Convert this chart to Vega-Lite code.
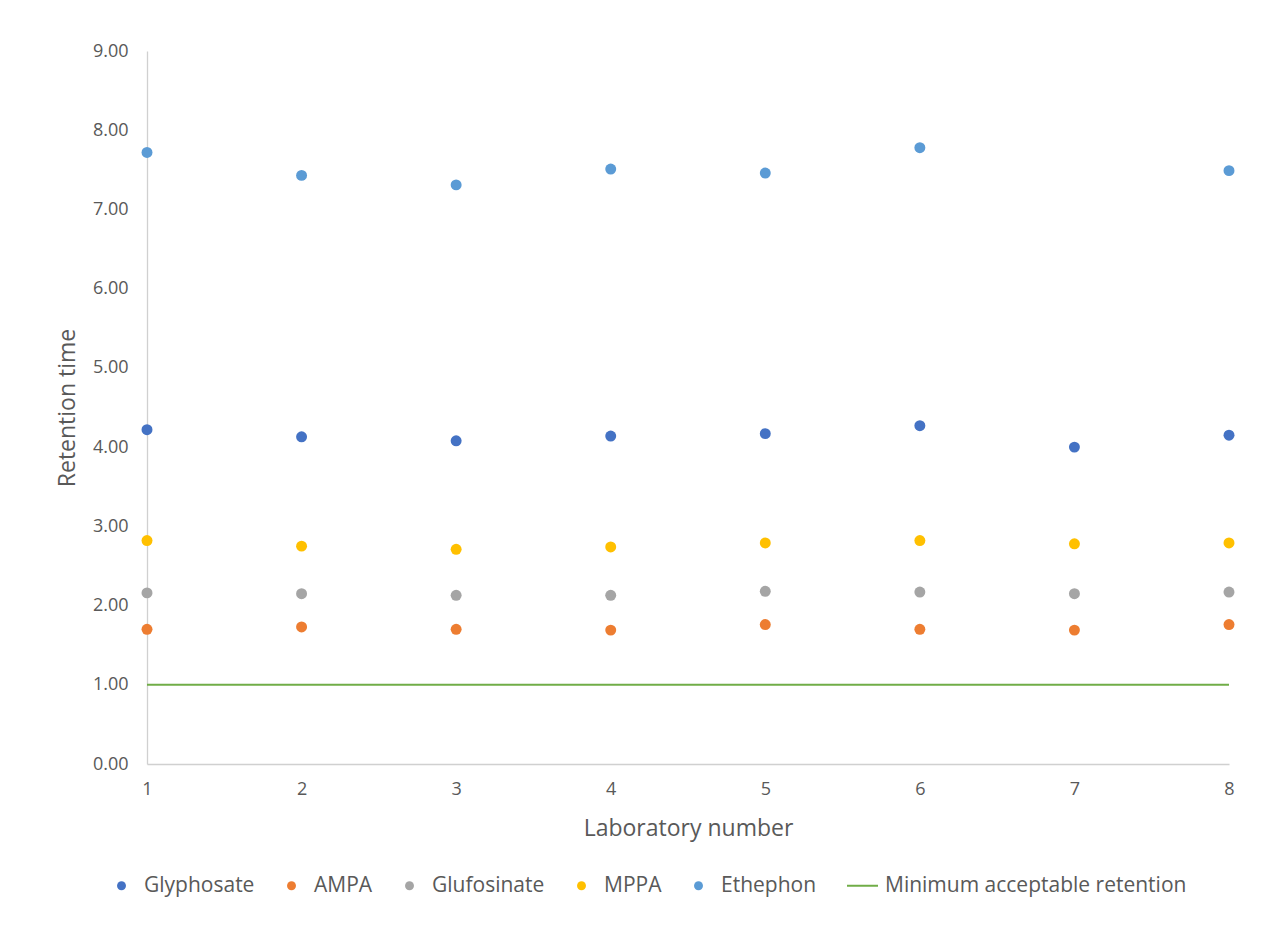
{
  "$schema": "https://vega.github.io/schema/vega-lite/v6.json",
  "width": 1082,
  "height": 713,
  "autosize": {"type": "none"},
  "padding": {"left": 147, "top": 51, "right": 51, "bottom": 181},
  "background": "white",
  "config": {
    "view": {"stroke": null},
    "font": "Open Sans",
    "axis": {"grid": false, "ticks": false, "labelFlush": false, "domainColor": "#D0D0D0", "domainWidth": 1.3, "labelColor": "#595959", "titleColor": "#595959", "labelFont": "Open Sans", "titleFont": "Open Sans", "titleFontWeight": "normal"}
  },
  "data": {"values": [
    {"lab": 1, "series": "Glyphosate", "rt": 4.22},
    {"lab": 2, "series": "Glyphosate", "rt": 4.13},
    {"lab": 3, "series": "Glyphosate", "rt": 4.08},
    {"lab": 4, "series": "Glyphosate", "rt": 4.14},
    {"lab": 5, "series": "Glyphosate", "rt": 4.17},
    {"lab": 6, "series": "Glyphosate", "rt": 4.27},
    {"lab": 7, "series": "Glyphosate", "rt": 4.00},
    {"lab": 8, "series": "Glyphosate", "rt": 4.15},
    {"lab": 1, "series": "AMPA", "rt": 1.70},
    {"lab": 2, "series": "AMPA", "rt": 1.73},
    {"lab": 3, "series": "AMPA", "rt": 1.70},
    {"lab": 4, "series": "AMPA", "rt": 1.69},
    {"lab": 5, "series": "AMPA", "rt": 1.76},
    {"lab": 6, "series": "AMPA", "rt": 1.70},
    {"lab": 7, "series": "AMPA", "rt": 1.69},
    {"lab": 8, "series": "AMPA", "rt": 1.76},
    {"lab": 1, "series": "Glufosinate", "rt": 2.16},
    {"lab": 2, "series": "Glufosinate", "rt": 2.15},
    {"lab": 3, "series": "Glufosinate", "rt": 2.13},
    {"lab": 4, "series": "Glufosinate", "rt": 2.13},
    {"lab": 5, "series": "Glufosinate", "rt": 2.18},
    {"lab": 6, "series": "Glufosinate", "rt": 2.17},
    {"lab": 7, "series": "Glufosinate", "rt": 2.15},
    {"lab": 8, "series": "Glufosinate", "rt": 2.17},
    {"lab": 1, "series": "MPPA", "rt": 2.82},
    {"lab": 2, "series": "MPPA", "rt": 2.75},
    {"lab": 3, "series": "MPPA", "rt": 2.71},
    {"lab": 4, "series": "MPPA", "rt": 2.74},
    {"lab": 5, "series": "MPPA", "rt": 2.79},
    {"lab": 6, "series": "MPPA", "rt": 2.82},
    {"lab": 7, "series": "MPPA", "rt": 2.78},
    {"lab": 8, "series": "MPPA", "rt": 2.79},
    {"lab": 1, "series": "Ethephon", "rt": 7.72},
    {"lab": 2, "series": "Ethephon", "rt": 7.43},
    {"lab": 3, "series": "Ethephon", "rt": 7.31},
    {"lab": 4, "series": "Ethephon", "rt": 7.51},
    {"lab": 5, "series": "Ethephon", "rt": 7.46},
    {"lab": 6, "series": "Ethephon", "rt": 7.78},
    {"lab": 8, "series": "Ethephon", "rt": 7.49},
    {"lab": 1, "series": "Minimum acceptable retention", "rt": 1.0},
    {"lab": 2, "series": "Minimum acceptable retention", "rt": 1.0},
    {"lab": 3, "series": "Minimum acceptable retention", "rt": 1.0},
    {"lab": 4, "series": "Minimum acceptable retention", "rt": 1.0},
    {"lab": 5, "series": "Minimum acceptable retention", "rt": 1.0},
    {"lab": 6, "series": "Minimum acceptable retention", "rt": 1.0},
    {"lab": 7, "series": "Minimum acceptable retention", "rt": 1.0},
    {"lab": 8, "series": "Minimum acceptable retention", "rt": 1.0}
  ]},
  "encoding": {
    "x": {"field": "lab", "type": "quantitative", "scale": {"domain": [1, 8], "nice": false, "zero": false},
      "axis": {"values": [1,2,3,4,5,6,7,8], "format": "d", "title": "Laboratory number", "labelFontSize": 18, "labelPadding": 16, "titleFontSize": 23, "titlePadding": 19}},
    "y": {"field": "rt", "type": "quantitative", "scale": {"domain": [0, 9], "nice": false},
      "axis": {"values": [0,1,2,3,4,5,6,7,8,9], "format": ".2f", "title": "Retention time", "labelFontSize": 18, "labelPadding": 19, "titleFontSize": 23, "titlePadding": 13}},
    "color": {"field": "series", "type": "nominal",
      "scale": {"domain": ["Glyphosate", "AMPA", "Glufosinate", "MPPA", "Ethephon", "Minimum acceptable retention"],
                "range": ["#4472C4", "#ED7D31", "#A5A5A5", "#FFC000", "#5B9BD5", "#70AD47"]},
      "legend": {"title": null, "orient": "none", "legendX": -36, "legendY": 824, "direction": "horizontal", "columns": 6,
        "labelFontSize": 21, "labelColor": "#595959", "labelFont": "Open Sans", "labelLimit": 500, "columnPadding": 26, "labelOffset": 12,
        "symbolType": "circle", "symbolSize": 80,
        "encode": {"symbols": {"update": {
          "shape": {"signal": "datum.value === 'Minimum acceptable retention' ? 'stroke' : 'circle'"},
          "size": {"signal": "datum.value === 'Minimum acceptable retention' ? 961 : 80"},
          "stroke": {"scale": "color", "field": "value"},
          "strokeWidth": {"signal": "datum.value === 'Minimum acceptable retention' ? 2 : 0"}
        }}}}
    }
  },
  "layer": [
    {"transform": [{"filter": "datum.series === 'Minimum acceptable retention'"}],
     "mark": {"type": "line", "strokeWidth": 2}},
    {"transform": [{"filter": "datum.series !== 'Minimum acceptable retention'"}],
     "mark": {"type": "circle", "size": 120, "opacity": 1}}
  ]
}
